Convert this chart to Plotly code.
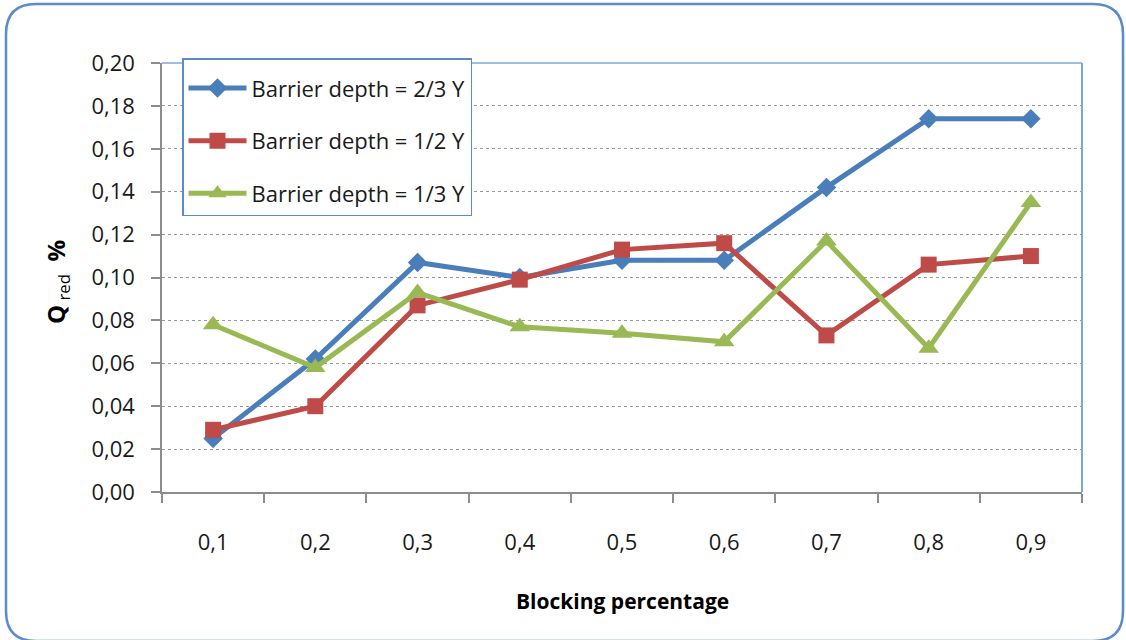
import plotly.graph_objects as go

# Blocking percentage categories (decimal comma labels)
categories = ["0,1", "0,2", "0,3", "0,4", "0,5", "0,6", "0,7", "0,8", "0,9"]

# Q_red % for each barrier depth
depth_2_3 = [0.025, 0.062, 0.107, 0.100, 0.108, 0.108, 0.142, 0.174, 0.174]
depth_1_2 = [0.029, 0.040, 0.087, 0.099, 0.113, 0.116, 0.073, 0.106, 0.110]
depth_1_3 = [0.078, 0.058, 0.093, 0.077, 0.074, 0.070, 0.117, 0.067, 0.135]

series_names = ["Barrier depth = 2/3 Y", "Barrier depth = 1/2 Y", "Barrier depth = 1/3 Y"]
y_ticks = [0.00, 0.02, 0.04, 0.06, 0.08, 0.10, 0.12, 0.14, 0.16, 0.18, 0.20]

BLUE = "#4A7EBB"
RED = "#BE4B48"
GREEN = "#98B954"
FRAME = "#5B8BC9"
AXIS = "#8C8C8C"
FONT = "Open Sans"

W, H = 1126, 640
ML, MR, MT, MB = 162, 44, 63, 148
PW, PH = W - ML - MR, H - MT - MB


def px(x):
    return (x - ML) / PW


def py(y):
    return (H - MB - y) / PH


fig = go.Figure()
styles = [
    (depth_2_3, BLUE, "diamond", 15),
    (depth_1_2, RED, "square", 16),
    (depth_1_3, GREEN, "triangle-up", 18),
]
for i, (vals, color, sym, size) in enumerate(styles):
    fig.add_trace(go.Scatter(
        x=categories, y=vals, name=series_names[i], mode="lines+markers",
        line=dict(color=color, width=5),
        marker=dict(symbol=sym, size=size, color=color),
        legendgroup=f"g{i}",
    ))

# outer rounded frame
L, R, T, B, r = 6, 1123, 4, 641, 30
path = (
    f"M {px(L + r)},{py(T)} L {px(R - r)},{py(T)} Q {px(R)},{py(T)} {px(R)},{py(T + r)} "
    f"L {px(R)},{py(B - r)} Q {px(R)},{py(B)} {px(R - r)},{py(B)} "
    f"L {px(L + r)},{py(B)} Q {px(L)},{py(B)} {px(L)},{py(B - r)} "
    f"L {px(L)},{py(T + r)} Q {px(L)},{py(T)} {px(L + r)},{py(T)} Z"
)
fig.add_shape(type="path", path=path, xref="paper", yref="paper",
              line=dict(color=FRAME, width=2.5), layer="below")

# plot-area border on top and right
fig.add_shape(type="line", xref="paper", yref="paper", x0=0, x1=1, y0=1, y1=1,
              line=dict(color="#7FA6D8", width=1.5))
fig.add_shape(type="line", xref="paper", yref="paper", x0=1, x1=1, y0=0, y1=1,
              line=dict(color="#7FA6D8", width=2))

# axis titles
fig.add_annotation(
    text="<b>Q</b><sub> red</sub>  <b>%</b>", xref="paper", yref="paper",
    x=px(57), y=py(282), xanchor="center", yanchor="middle",
    textangle=-90, showarrow=False,
    font=dict(family=FONT, size=24, color="#000000"),
)
fig.add_annotation(
    text="<b>Blocking percentage</b>", xref="paper", yref="paper",
    x=px(622), y=py(601), xanchor="center", yanchor="middle", showarrow=False,
    font=dict(family=FONT, size=21, color="#000000"),
)

fig.update_layout(
    width=W, height=H,
    margin=dict(l=ML, r=MR, t=MT, b=MB),
    paper_bgcolor="white", plot_bgcolor="white",
    separators=",.",
    font=dict(family=FONT, size=22, color="#1a1a1a"),
    legend=dict(
        x=px(182), y=py(58), xanchor="left", yanchor="top",
        bordercolor=FRAME, borderwidth=1.5, bgcolor="white",
        font=dict(family=FONT, size=22, color="#1a1a1a"),
        title=dict(text=" ", font=dict(size=6)),
        tracegroupgap=21, itemwidth=58,
    ),
    xaxis=dict(
        type="category", tickson="boundaries", ticks="outside", ticklen=9,
        tickcolor=AXIS, tickwidth=1.5, showline=True, linecolor=AXIS, linewidth=1.5,
        showgrid=False, range=[-0.5, 8.5], ticklabelstandoff=30,
        tickfont=dict(family=FONT, size=22, color="#1a1a1a"),
    ),
    yaxis=dict(
        range=[0, 0.20], tickvals=y_ticks, tickformat=".2f",
        ticks="outside", ticklen=9, tickcolor=AXIS, tickwidth=1.5,
        showline=True, linecolor=AXIS, linewidth=1.5,
        showgrid=True, gridcolor="#9A9A9A", griddash="dot", gridwidth=1,
        zeroline=False, ticklabelstandoff=12,
        tickfont=dict(family=FONT, size=22, color="#1a1a1a"),
    ),
)

fig.write_html("out.html")
